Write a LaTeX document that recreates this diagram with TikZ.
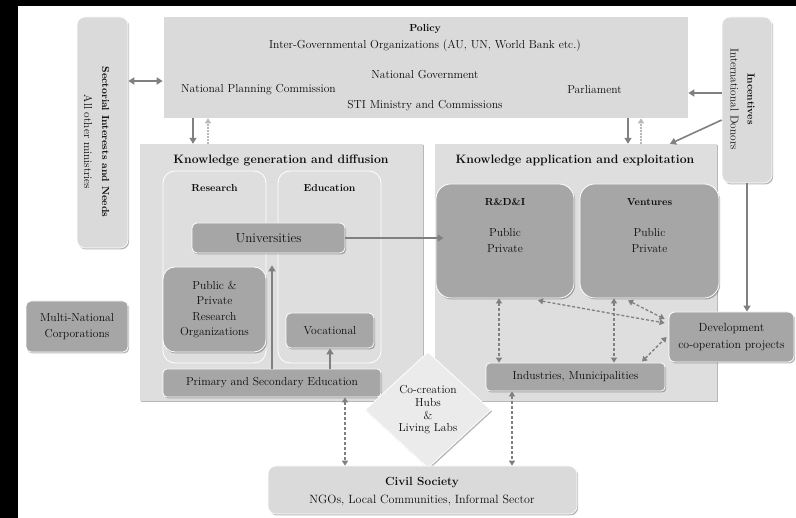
\documentclass[tikz,border=0pt]{standalone}
\usetikzlibrary{arrows.meta,shapes.geometric,shadows,calc}
\definecolor{lg}{HTML}{DADADA}
\definecolor{bgg}{HTML}{DEDEDE}
\definecolor{dg}{HTML}{A6A6A6}
\definecolor{ac}{HTML}{808080}
\definecolor{dotc}{HTML}{B8B8B8}
\definecolor{hubc}{HTML}{EBEBEB}
\definecolor{tx}{HTML}{0D0D0D}
\begin{document}
\begin{tikzpicture}[x=1pt,y=-1pt,
  shd/.style={drop shadow={shadow xshift=1.2pt,shadow yshift=-1.5pt,opacity=0.28,fill=black}},
  lbox/.style={fill=lg, draw=white, line width=0.6pt, shd, inner sep=0pt},
  bgbox/.style={fill=bgg, draw=none, shd, inner sep=0pt},
  dbox/.style={fill=dg, draw=white, line width=0.8pt, shd, inner sep=0pt, align=center, text=tx},
  framebox/.style={draw=white, line width=0.8pt, rounded corners=12pt, inner sep=0pt},
  t11/.style={font=\fontsize{11.6}{16}\selectfont, align=center, text=tx, inner sep=0pt},
  tb10/.style={font=\fontsize{10.2}{12}\selectfont\bfseries, align=center, text=tx, inner sep=0pt},
  tb12/.style={font=\fontsize{12.2}{14}\selectfont\bfseries, align=center, text=tx, inner sep=0pt},
  arr/.style={draw=ac, line width=1.6pt, -{Triangle[length=6pt,width=7pt]}},
  darr/.style={draw=ac, line width=1.3pt, dash pattern=on 3pt off 2pt, {Triangle[length=5pt,width=6pt]}-{Triangle[length=5pt,width=6pt]}},
  barr/.style={draw=ac, line width=1.6pt, {Triangle[length=6pt,width=7pt]}-{Triangle[length=6pt,width=7pt]}},
  dotarr/.style={draw=dotc, line width=1.6pt, dash pattern=on 1.5pt off 1.5pt, -{Triangle[length=5pt,width=6pt]}}
]
\useasboundingbox (0,0) rectangle (796,518);
\fill[white] (0,0) rectangle (796,518);
\fill[black] (0,0) rectangle (18,518);
\fill[black] (0,0) rectangle (796,6);

% top row
\node[lbox, rounded corners=8pt, minimum width=51pt, minimum height=231pt] (sect) at (102.5,132.5) {};
\node[lbox, minimum width=525pt, minimum height=102pt] (policy) at (425.5,67) {};
\node[lbox, rounded corners=8pt, minimum width=50pt, minimum height=166pt] (incent) at (747,100) {};

\node[rotate=-90, font=\fontsize{11.4}{18}\selectfont, align=center, text=tx, inner sep=0pt] (sectT) at (96.5,142)
  {{\fontsize{10.2}{18}\selectfont\bfseries Sectorial Interests and Needs}\\All other ministries};
\node[rotate=-90, font=\fontsize{11.4}{17}\selectfont, align=center, text=tx, inner sep=0pt] (incT) at (742.5,99)
  {{\fontsize{10.2}{17}\selectfont\bfseries Incentives}\\International Donors};

\node[tb10] (polT) at (425,29) {Policy};
\node[t11] (igo) at (425,46) {Inter-Governmental Organizations (AU, UN, World Bank etc.)};
\node[t11] (natg) at (425,75) {National Government};
\node[t11] (npc) at (258.5,90) {National Planning Commission};
\node[t11] (parl) at (594.5,90) {Parliament};
\node[t11] (sti) at (425,106) {STI Ministry and Commissions};

% big areas
\node[bgbox, minimum width=283pt, minimum height=257pt] (kgd) at (281.5,272.5) {};
\node[bgbox, minimum width=282pt, minimum height=257pt] (kae) at (576,272.5) {};
\node[tb12] (kgdT) at (281,160) {Knowledge generation and diffusion};
\node[tb12] (kaeT) at (575,160) {Knowledge application and exploitation};

% frames
\node[framebox, minimum width=103pt, minimum height=192pt] (resF) at (214.5,267) {};
\node[framebox, minimum width=103pt, minimum height=192pt] (eduF) at (329.5,267) {};
\node[tb10] (resT) at (214.5,188) {Research};
\node[tb10] (eduT) at (329.5,188) {Education};

% inner boxes
\node[dbox, rounded corners=5pt, minimum width=153pt, minimum height=30pt, font=\fontsize{13.2}{15}\selectfont] (univ) at (268.5,238) {Universities};
\node[dbox, rounded corners=12pt, minimum width=103pt, minimum height=85pt, font=\fontsize{11.6}{15.3}\selectfont] (pro) at (214.5,309.5) {Public \&\\Private\\Research\\Organizations};
\node[dbox, rounded corners=5pt, minimum width=88pt, minimum height=35pt, font=\fontsize{11.6}{15}\selectfont] (voc) at (330,330.5) {Vocational};
\node[dbox, rounded corners=4pt, minimum width=218pt, minimum height=28pt, font=\fontsize{11.6}{15}\selectfont] (prim) at (272,383) {Primary and Secondary Education};
\node[dbox, rounded corners=5pt, minimum width=102pt, minimum height=51pt, font=\fontsize{11.6}{16}\selectfont] (mnc) at (77,326.5) {Multi-National\\Corporations};

\node[dbox, rounded corners=15pt, minimum width=138pt, minimum height=114pt] (rdi) at (505,241) {};
\node[dbox, rounded corners=15pt, minimum width=139pt, minimum height=114pt] (vent) at (649.5,241) {};
\node[tb10] (rdiT) at (505,202) {R\&D\&I};
\node[t11] (rdiS) at (505,241) {Public\\Private};
\node[tb10] (ventT) at (649.5,202) {Ventures};
\node[t11] (ventS) at (649.5,241) {Public\\Private};

\node[dbox, rounded corners=6pt, minimum width=125pt, minimum height=50pt, font=\fontsize{11.8}{16.5}\selectfont] (dev) at (731.5,337) {Development\\co-operation projects};
\node[dbox, rounded corners=4pt, minimum width=179pt, minimum height=28pt, font=\fontsize{11.6}{15}\selectfont] (ind) at (575.5,377) {Industries, Municipalities};

% hub
\node[diamond, aspect=1.086, fill=hubc, draw=white, line width=0.8pt, shd, inner sep=0pt,
  minimum width=126pt, minimum height=116pt, align=center, text=tx,
  font=\fontsize{11.6}{12.7}\selectfont] (hub) at (428,410) {Co-creation\\Hubs\\\&\\Living Labs};

% civil society
\node[lbox, rounded corners=8pt, minimum width=309pt, minimum height=48pt] (civil) at (422.5,490) {};
\node[font=\fontsize{11.8}{14}\selectfont\bfseries, text=tx, inner sep=0pt] (civT) at (422,483) {Civil Society};
\node[font=\fontsize{12}{14}\selectfont, text=tx, inner sep=0pt] (civS) at (422,500) {NGOs, Local Communities, Informal Sector};

% arrows top
\draw[barr] (sect.east |- 0,81) -- (policy.west |- 0,81);
\draw[arr] (incent.west |- 0,93) -- (policy.east |- 0,93);
\draw[arr] (incent.west |- 0,120) -- (kae.north -| 670,0);
\draw[arr] (incent.south) -- (dev.north -| incent.south);
\draw[arr] (policy.south -| 193,0) -- (kgd.north -| 193,0);
\draw[dotarr] (kgd.north -| 208,0) -- (policy.south -| 208,0);
\draw[arr] (policy.south -| 628,0) -- (kae.north -| 628,0);
\draw[dotarr] (kae.north -| 641,0) -- (policy.south -| 641,0);

% inner arrows
\draw[arr] (univ.east) -- ($(rdi.west |- univ.east)+(8,0)$);
\draw[arr, shorten >=12pt] (prim.north -| 272,0) -- (univ.south -| 272,0);
\draw[arr] (prim.north -| voc.south) -- (voc.south);

% dashed
\draw[darr] (rdi.south -| 499,0) -- (ind.north -| 499,0);
\draw[darr] (vent.south -| 614,0) -- (ind.north -| 614,0);
\draw[darr] ($(rdi.south -| 538,0)+(0,2)$) -- ($(dev.west)+(-4,-14)$);
\draw[darr] ($(vent.south -| 628,0)+(0,2)$) -- ($(dev.west)+(-4,-18)$);
\draw[darr] ($(ind.north -| 642,0)+(0,-1)$) -- ($(dev.west)+(-2,0)$);
\draw[darr] (prim.south -| 345,0) -- (civil.north -| 345,0);
\draw[darr] (ind.south -| 512,0) -- (civil.north -| 512,0);
\end{tikzpicture}
\end{document}
